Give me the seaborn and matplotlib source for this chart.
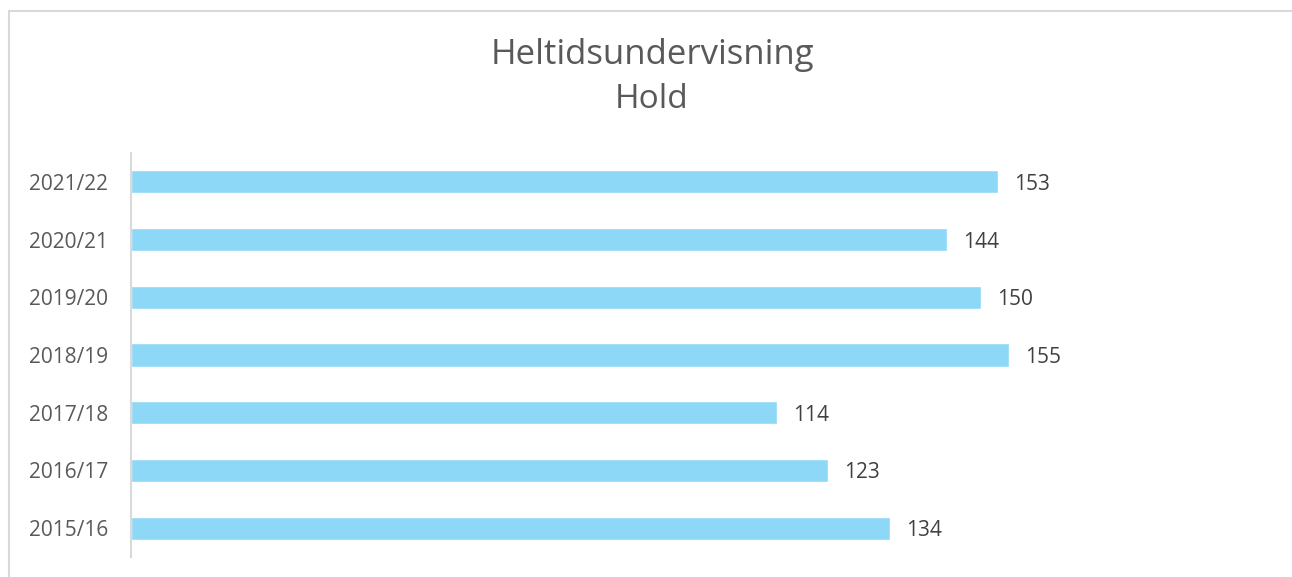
import matplotlib
matplotlib.use("Agg")
import matplotlib.pyplot as plt
import seaborn as sns
import pandas as pd
from matplotlib.patches import Rectangle

years = ["2021/22", "2020/21", "2019/20", "2018/19", "2017/18", "2016/17", "2015/16"]
hold = [153, 144, 150, 155, 114, 123, 134]

title = "Heltidsundervisning"
subtitle = "Hold"

df = pd.DataFrame({"year": years, "hold": hold})

sns.set_theme(style="white")
plt.rcParams["font.family"] = ["Open Sans", "DejaVu Sans"]
txt = "#595959"

fig = plt.figure(figsize=(12.92, 5.77), dpi=100)
ax = fig.add_axes([131 / 1292, 1 - 557 / 577, (1264 - 131) / 1292, (557 - 153) / 577])

sns.barplot(data=df, x="hold", y="year", orient="h", color="#8DD8F7",
            width=0.4, saturation=1, ax=ax)

ax.set_xlim(0, 200)
ax.set_ylim(6.5, -0.5)
ax.set_xlabel(""); ax.set_ylabel("")
ax.set_xticks([])
sns.despine(ax=ax, top=True, right=True, bottom=True, left=False)
ax.spines["left"].set_color("#D9D9D9")
ax.spines["left"].set_linewidth(1.5)
ax.tick_params(axis="y", length=0, pad=16.5, labelsize=15, labelcolor=txt)
for lab in ax.get_yticklabels():
    lab.set_verticalalignment("center_baseline")

# value labels
for i, v in enumerate(hold):
    ax.text(v + 2.9, i, str(v), va="center_baseline", ha="left", fontsize=15, color="#404040")

fig.text(652 / 1292, 1 - 55 / 577, title, ha="center", va="center", fontsize=25, color=txt)
fig.text(652 / 1292, 1 - 100 / 577, subtitle, ha="center", va="center", fontsize=24, color=txt)

# chart frame
fig.patches.append(Rectangle((9 / 1292, -0.05), 1290 / 1292, 1.05 - 10.5 / 577,
                             transform=fig.transFigure, fill=False,
                             edgecolor="#D9D9D9", linewidth=1.5))

fig.savefig("out.png", dpi=100)
